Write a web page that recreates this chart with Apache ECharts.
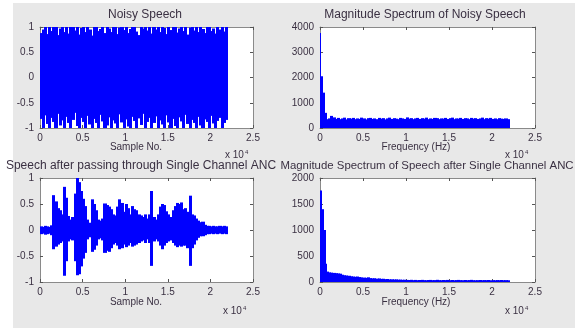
<!DOCTYPE html>
<html>
<head>
<meta charset="utf-8">
<script src="https://cdn.jsdelivr.net/npm/echarts@6/dist/echarts.min.js"></script>
<style>
html,body{margin:0;padding:0;background:#ffffff;}
#c{width:578px;height:329px;}
</style>
</head>
<body>
<div id="c"></div>
<script>
// ---------- data ----------
const xTickLabels = ['0', '0.5', '1', '1.5', '2', '2.5'];      // x 10^4
const waveYTickLabels = ['-1', '-0.5', '0', '0.5', '1'];
const binSamples = 250;   // samples per envelope bin

// Noisy speech envelope (per 250-sample bin, 0..22000)
const noisyUpper = [0.88,0.95,1,0.86,1,0.92,1,1,0.84,0.97,1,0.9,1,0.87,1,1,0.93,1,0.85,0.98,1,0.9,1,0.95,0.83,1,1,0.92,0.96,1,0.88,1,0.97,0.9,1,1,0.86,0.99,1,0.94,1,0.88,0.96,1,1,0.91,0.84,1,0.97,1,0.93,1,0.87,1,0.95,1,0.9,1,0.98,0.86,1,0.94,1,1,0.89,0.97,1,0.92,1,0.85,0.99,1,0.93,1,0.9,1,0.96,0.88,1,1,0.92,0.97,0.87,1,0.95,1,0.91,1];
const noisyLower = [-0.82,-1,-0.75,-0.92,-1,-0.8,-0.88,-1,-0.72,-0.95,-0.85,-1,-0.78,-0.9,-1,-0.84,-0.7,-0.96,-1,-0.8,-0.88,-1,-0.76,-0.93,-1,-0.82,-0.9,-1,-0.74,-0.87,-1,-0.95,-0.79,-1,-0.85,-0.91,-1,-0.73,-0.89,-1,-0.83,-0.97,-1,-0.78,-0.86,-1,-0.81,-0.94,-0.72,-1,-0.88,-0.8,-1,-0.9,-0.77,-1,-0.85,-0.93,-1,-0.75,-0.89,-1,-0.82,-0.96,-1,-0.79,-0.87,-1,-0.74,-0.92,-1,-0.84,-0.9,-1,-0.78,-0.95,-1,-0.83,-0.88,-1,-0.76,-0.91,-1,-0.86,-0.8,-1,-0.9,-0.84];

// Speech after ANC envelope (per 250-sample bin, 0..22000)
const ancUpper = [0.07,0.06,0.08,0.07,0.06,0.09,0.67,0.55,0.42,0.38,0.3,0.83,0.62,0.27,0.2,0.25,0.7,1.0,0.92,0.75,0.6,0.46,0.2,0.14,0.59,0.5,0.38,0.2,0.18,0.22,0.51,0.48,0.45,0.4,0.3,0.28,0.45,0.59,0.52,0.35,0.5,0.42,0.3,0.46,0.4,0.38,0.3,0.28,0.25,0.3,0.22,0.3,0.75,0.25,0.2,0.3,0.45,0.5,0.48,0.36,0.3,0.25,0.38,0.46,0.52,0.5,0.53,0.4,0.42,0.35,0.66,0.3,0.28,0.22,0.18,0.15,0.16,0.1,0.08,0.08,0.07,0.08,0.07,0.07,0.08,0.07,0.08,0.07];
const ancLower = [-0.08,-0.07,-0.09,-0.08,-0.07,-0.1,-0.37,-0.32,-0.28,-0.25,-0.22,-0.88,-0.6,-0.22,-0.18,-0.2,-0.6,-0.87,-0.85,-0.7,-0.55,-0.44,-0.18,-0.14,-0.42,-0.38,-0.3,-0.18,-0.16,-0.2,-0.44,-0.4,-0.42,-0.35,-0.28,-0.25,-0.3,-0.37,-0.35,-0.28,-0.33,-0.3,-0.25,-0.32,-0.3,-0.28,-0.25,-0.22,-0.2,-0.25,-0.18,-0.25,-0.69,-0.22,-0.18,-0.22,-0.3,-0.37,-0.3,-0.25,-0.22,-0.2,-0.25,-0.3,-0.33,-0.3,-0.32,-0.3,-0.3,-0.35,-0.69,-0.35,-0.28,-0.2,-0.15,-0.12,-0.12,-0.1,-0.08,-0.08,-0.07,-0.08,-0.07,-0.08,-0.07,-0.08,-0.07,-0.08];

// Magnitude spectrum of noisy speech: low-frequency bins (start Hz, magnitude), then 250 Hz bins from 1000 Hz
const noisyLowStart = [0, 115, 270, 580, 770];
const noisyLowMag = [3760, 2050, 1400, 600, 350];
const noisyBandMag = [380,480,420,360,400,350,380,410,340,390,370,400,350,380,360,410,380,340,390,400,360,380,350,400,370,390,340,380,410,360,390,370,350,400,380,360,420,370,390,350,380,400,360,390,370,410,350,380,360,400,390,350,380,370,400,360,390,410,350,380,370,400,360,390,380,350,400,370,390,360,380,410,350,390,370,400,360,380,350,390,370,360,380,350];

// Magnitude spectrum after ANC
const ancLowStart = [0, 150, 350, 600, 800];
const ancLowMag = [1760, 1400, 1000, 350, 200];
const ancBandMag = [185,180,175,170,165,160,140,130,125,120,110,105,100,105,95,90,85,80,90,75,70,72,65,68,60,62,55,58,50,52,48,50,45,46,42,44,40,38,42,36,40,35,38,41,36,34,38,40,35,37,42,36,34,39,36,40,35,38,33,37,40,36,35,38,34,37,41,35,33,36,38,34,37,35,39,34,36,33,37,35,38,34,36,33];
const bandStart = 1000, bandStep = 250, signalEnd = 22000;

// ---------- build series data ----------
function waveData(up, lo) {
  const d = [];
  for (let i = 0; i < up.length; i++) d.push([i * binSamples, (i + 1) * binSamples, lo[i], up[i]]);
  return d;
}
function specData(lowStart, lowMag, bandMag) {
  const starts = lowStart.slice(), mags = lowMag.slice();
  for (let i = 0; i < bandMag.length; i++) { starts.push(bandStart + i * bandStep); mags.push(bandMag[i]); }
  const d = [];
  for (let i = 0; i < starts.length; i++) {
    const end = i + 1 < starts.length ? starts[i + 1] : signalEnd;
    d.push([starts[i], Math.min(end, signalEnd), 0, mags[i]]);
  }
  return d;
}

const BLUE = '#0000ff';
function rectSeries(idx, data) {
  return {
    type: 'custom', xAxisIndex: idx * 2, yAxisIndex: idx * 2, data: data,
    clip: true, silent: true, animation: false, progressive: 0,
    dimensions: ['x0', 'x1', 'lo', 'hi'],
    encode: { x: ['x0', 'x1'], y: ['lo', 'hi'] },
    renderItem: function (params, api) {
      const a = api.coord([api.value(0), api.value(3)]);
      const b = api.coord([api.value(1), api.value(2)]);
      const x0 = Math.floor(a[0]), x1 = Math.ceil(b[0]);
      return { type: 'rect', shape: { x: x0, y: a[1], width: Math.max(x1 - x0, 1), height: Math.max(b[1] - a[1], 1) },
        style: { fill: BLUE, stroke: null, lineWidth: 0 } };
    }
  };
}

const grids = [
  { left: 40, top: 27, width: 213, height: 101 },
  { left: 320, top: 27, width: 215, height: 101 },
  { left: 40, top: 178, width: 213, height: 104 },
  { left: 320, top: 178, width: 215, height: 104 }
];
const yRanges = [
  { min: -1, max: 1, interval: 0.5, wave: true },
  { min: 0, max: 4000, interval: 1000 },
  { min: -1, max: 1, interval: 0.5, wave: true },
  { min: 0, max: 2000, interval: 500 }
];

const TXT = '#3a3042';
const FONT = 'Liberation Sans, Arial, sans-serif';
const lineC = '#8a8a8a';
const xAxes = [], yAxes = [];
grids.forEach(function (g, i) {
  const base = {
    gridIndex: i, type: 'value', min: 0, max: 25000, interval: 5000,
    axisLine: { show: true, onZero: false, lineStyle: { color: lineC, width: 1 } },
    axisTick: { show: true, inside: true, length: 3, lineStyle: { color: '#555' } },
    splitLine: { show: false }
  };
  xAxes.push(Object.assign({}, base, {
    position: 'bottom',
    axisLabel: { show: true, margin: 5, color: TXT, fontFamily: FONT, fontSize: 10,
      formatter: function (v) { return xTickLabels[Math.round(v / 5000)]; } }
  }));
  xAxes.push(Object.assign({}, base, { position: 'top', axisLabel: { show: false } }));
  const r = yRanges[i];
  const ybase = {
    gridIndex: i, type: 'value', min: r.min, max: r.max, interval: r.interval,
    axisLine: { show: true, onZero: false, lineStyle: { color: lineC, width: 1 } },
    axisTick: { show: true, inside: true, length: 3, lineStyle: { color: '#555' } },
    splitLine: { show: false }
  };
  yAxes.push(Object.assign({}, ybase, {
    position: 'left',
    axisLabel: { show: true, margin: 6, color: TXT, fontFamily: FONT, fontSize: 10,
      formatter: r.wave ? function (v) { return waveYTickLabels[Math.round((v + 1) / 0.5)]; } : function (v) { return String(v); } }
  }));
  yAxes.push(Object.assign({}, ybase, { position: 'right', axisLabel: { show: false } }));
});

function txt(x, y, s, size) {
  return { type: 'text', x: x, y: y, silent: true,
    style: { text: s, fill: TXT, font: size + 'px ' + FONT, textAlign: 'center', textVerticalAlign: 'middle' } };
}
function exp10(x, y) {
  return { type: 'text', x: x, y: y, silent: true,
    style: { text: '{a|x 10}{b|4}', textVerticalAlign: 'middle', textAlign: 'left',
      rich: { a: { fill: TXT, fontSize: 10, fontFamily: FONT }, b: { fill: TXT, fontSize: 6, fontFamily: FONT, verticalAlign: 'top', padding: [0, 0, 6, 1] } } } };
}

const chart = echarts.init(document.getElementById('c'), null, { renderer: 'canvas' });
chart.setOption({
  backgroundColor: '#ffffff',
  animation: false,
  grid: grids.map(function (g) { return Object.assign({ containLabel: false, show: true, backgroundColor: '#ffffff', borderWidth: 0 }, g); }),
  xAxis: xAxes,
  yAxis: yAxes,
  graphic: [
    { type: 'rect', z: -10, silent: true, shape: { x: 13, y: 3, width: 562, height: 325 }, style: { fill: '#e8e8e8' } },
    txt(145, 15, 'Noisy Speech', 12),
    txt(425, 15, 'Magnitude Spectrum of Noisy Speech', 12),
    txt(141, 166, 'Speech after passing through Single Channel ANC', 12),
    txt(427, 166, 'Magnitude Spectrum of Speech after Single Channel ANC', 11.4),
    txt(136, 147, 'Sample No.', 10),
    txt(416, 147, 'Frequency (Hz)', 10),
    txt(136, 302, 'Sample No.', 10),
    txt(416, 302, 'Frequency (Hz)', 10),
    exp10(225, 155), exp10(505, 155), exp10(223, 311), exp10(505, 311)
  ],
  series: [
    rectSeries(0, waveData(noisyUpper, noisyLower)),
    rectSeries(1, specData(noisyLowStart, noisyLowMag, noisyBandMag)),
    rectSeries(2, waveData(ancUpper, ancLower)),
    rectSeries(3, specData(ancLowStart, ancLowMag, ancBandMag))
  ]
});
</script>
</body>
</html>
